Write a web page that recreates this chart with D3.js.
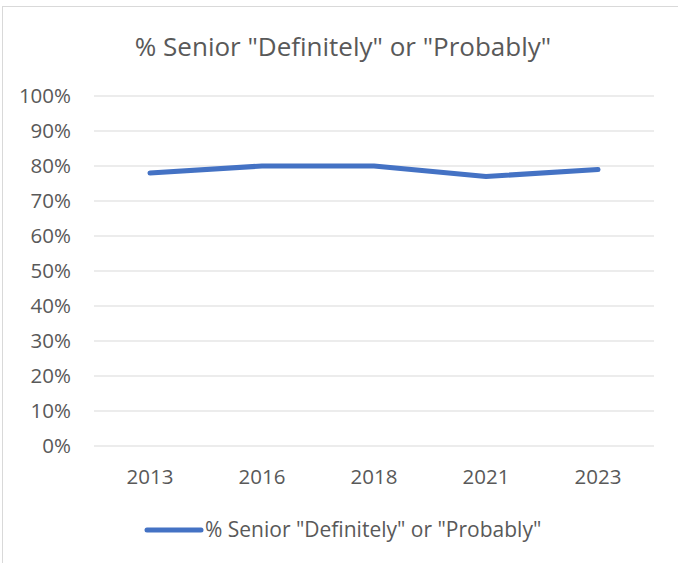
<!DOCTYPE html>
<meta charset="utf-8">
<style>
  body { margin: 0; background: #fff; }
  text { font-family: "Open Sans", "Noto Sans", sans-serif; fill: #595959; }
</style>
<body>
  <div id="chart"></div>
  <script src="https://d3js.org/d3.v7.min.js"></script>
  <script>
    var years = ["2013", "2016", "2018", "2021", "2023"];
    var values = [0.78, 0.80, 0.80, 0.77, 0.79];
    var yTicks = [0, 0.1, 0.2, 0.3, 0.4, 0.5, 0.6, 0.7, 0.8, 0.9, 1.0];
    var seriesName = '% Senior "Definitely" or "Probably"';

    var W = 678, H = 563;
    var margin = { top: 96, right: 24, bottom: 117, left: 94 },
      width = 654 - margin.left,
      height = 446 - margin.top;

    var svg = d3.select("#chart").append("svg")
      .attr("width", W)
      .attr("height", H);

    // chart frame
    svg.append("rect")
      .attr("x", 2.5).attr("y", 6.5)
      .attr("width", W + 10).attr("height", H + 10)
      .attr("fill", "none")
      .attr("stroke", "#d9d9d9");

    svg.append("text")
      .attr("x", 343).attr("y", 56)
      .attr("text-anchor", "middle")
      .style("font-size", "26px")
      .text(seriesName);

    var g = svg.append("g")
      .attr("transform", "translate(" + margin.left + "," + margin.top + ")");

    var x = d3.scaleBand().domain(years).range([0, width]);
    var y = d3.scaleLinear().domain([0, 1]).range([height, 0]);

    // gridlines
    g.selectAll(".grid").data(yTicks).enter().append("line")
      .attr("class", "grid")
      .attr("x1", 0).attr("x2", width)
      .attr("y1", function(d) { return y(d); })
      .attr("y2", function(d) { return y(d); })
      .attr("stroke", "#d9d9d9")
      .attr("stroke-width", 1);

    var yAxis = d3.axisLeft(y).tickValues(yTicks).tickFormat(d3.format(".0%")).tickSize(0).tickPadding(23);
    g.append("g").call(yAxis)
      .call(function(s) { s.select(".domain").remove(); })
      .selectAll("text").style("font-size", "20.5px").attr("fill", "#595959");

    var xAxis = d3.axisBottom(x).tickSize(0).tickPadding(23);
    g.append("g").attr("transform", "translate(0," + height + ")").call(xAxis)
      .call(function(s) { s.select(".domain").remove(); })
      .selectAll("text").style("font-size", "20.5px").attr("fill", "#595959");

    var line = d3.line()
      .x(function(d, i) { return x(years[i]) + x.bandwidth() / 2; })
      .y(function(d) { return y(d); });

    g.append("path")
      .datum(values)
      .attr("d", line)
      .attr("fill", "none")
      .attr("stroke", "#4472c4")
      .attr("stroke-width", 5)
      .attr("stroke-linecap", "round")
      .attr("stroke-linejoin", "round");

    // legend
    var leg = svg.append("g").attr("transform", "translate(147,530)");
    leg.append("line")
      .attr("x1", 0).attr("x2", 54)
      .attr("stroke", "#4472c4").attr("stroke-width", 5)
      .attr("stroke-linecap", "round");
    leg.append("text")
      .attr("x", 58).attr("y", 7)
      .style("font-size", "21px")
      .text(seriesName);
  </script>
</body>
